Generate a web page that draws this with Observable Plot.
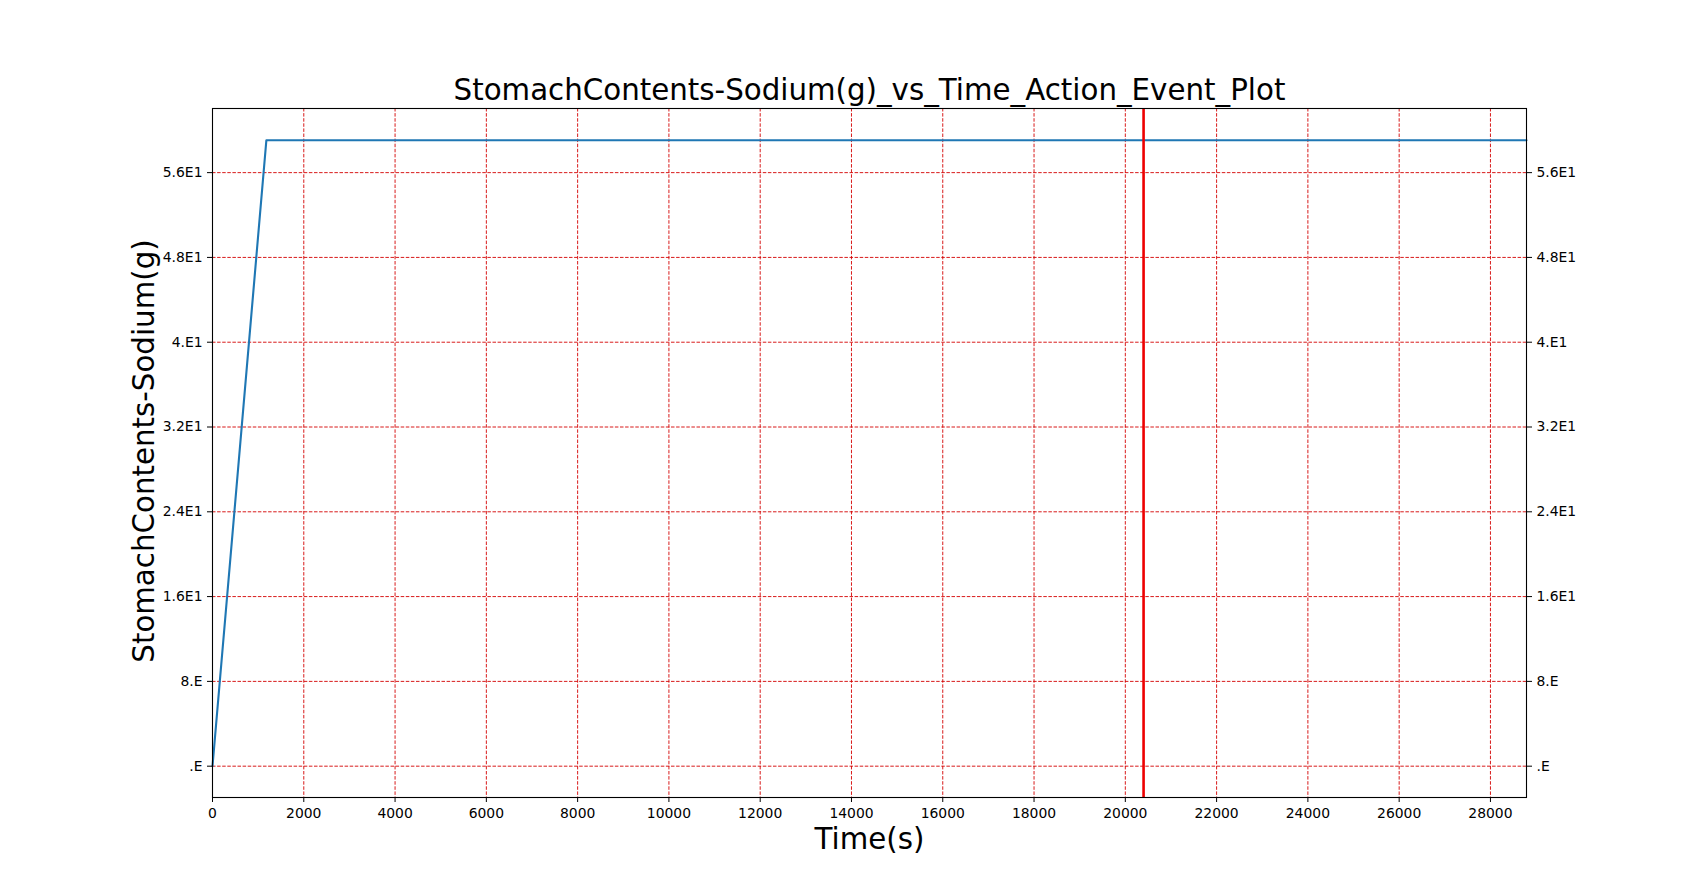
<!DOCTYPE html>
<html>
<head>
<meta charset="utf-8">
<script src="https://cdn.jsdelivr.net/npm/d3@7"></script>
<script src="https://cdn.jsdelivr.net/npm/@observablehq/plot@0.6"></script>
<style>
html, body { margin: 0; padding: 0; background: #fff; }
#chart svg { display: block; }
</style>
</head>
<body>
<div id="chart"></div>
<script>
// Data
const timeS = [0, 1180, 28790];
const sodiumG = [0, 59.05, 59.05];
const eventTimes = [20400];
const yTickValues = [0, 8, 16, 24, 32, 40, 48, 56];
const yTickLabels = [".E", "8.E", "1.6E1", "2.4E1", "3.2E1", "4.E1", "4.8E1", "5.6E1"];
const xTickValues = [0, 2000, 4000, 6000, 8000, 10000, 12000, 14000, 16000, 18000, 20000, 22000, 24000, 26000, 28000];
const titleText = "StomachContents-Sodium(g)_vs_Time_Action_Event_Plot";
const xLabel = "Time(s)";
const yLabel = "StomachContents-Sodium(g)";

const series = timeS.map((t, i) => ({t, v: sodiumG[i]}));
const yFmt = v => yTickLabels[yTickValues.indexOf(v)] ?? "";
const font = "DejaVu Sans, sans-serif";
const bigFont = 29.3;

const chart = Plot.plot({
  width: 1696,
  height: 896,
  marginLeft: 212,
  marginRight: 170,
  marginTop: 108,
  marginBottom: 99,
  style: {fontFamily: font, fontSize: "13.9px", color: "#000", background: "#fff"},
  x: {domain: [0, 28790], ticks: xTickValues},
  y: {domain: [-2.955, 62.05], ticks: yTickValues},
  marks: [
    Plot.gridX(xTickValues, {stroke: "#d40000", strokeOpacity: 1, strokeWidth: 0.9, strokeDasharray: "3.5,1.6"}),
    Plot.gridY(yTickValues, {stroke: "#d40000", strokeOpacity: 1, strokeWidth: 0.9, strokeDasharray: "3.5,1.6"}),
    Plot.line(series, {x: "t", y: "v", stroke: "#1f77b4", strokeWidth: 2.1}),
    Plot.ruleX(eventTimes, {stroke: "#ee0000", strokeWidth: 2.6}),
    Plot.frame({stroke: "#000", strokeWidth: 1.1}),
    Plot.axisX(xTickValues, {anchor: "bottom", tickSize: 5, tickPadding: 6, label: null, fontSize: 13.9, tickFormat: d => String(d)}),
    Plot.axisY(yTickValues, {anchor: "left", tickSize: 5, tickPadding: 5, label: null, fontSize: 13.9, tickFormat: yFmt}),
    Plot.axisY(yTickValues, {anchor: "right", tickSize: 5, tickPadding: 5, label: null, fontSize: 13.9, tickFormat: yFmt}),
    Plot.text([titleText], {frameAnchor: "top", lineAnchor: "middle", textAnchor: "middle", dy: -18, fontSize: bigFont, fill: "#000"}),
    Plot.text([xLabel], {frameAnchor: "bottom", lineAnchor: "middle", textAnchor: "middle", dy: 42, fontSize: bigFont, fill: "#000"}),
    Plot.text([yLabel], {frameAnchor: "left", lineAnchor: "middle", textAnchor: "middle", dx: -68, dy: -2, rotate: -90, fontSize: bigFont, fill: "#000"})
  ]
});
document.getElementById("chart").appendChild(chart);
</script>
</body>
</html>
